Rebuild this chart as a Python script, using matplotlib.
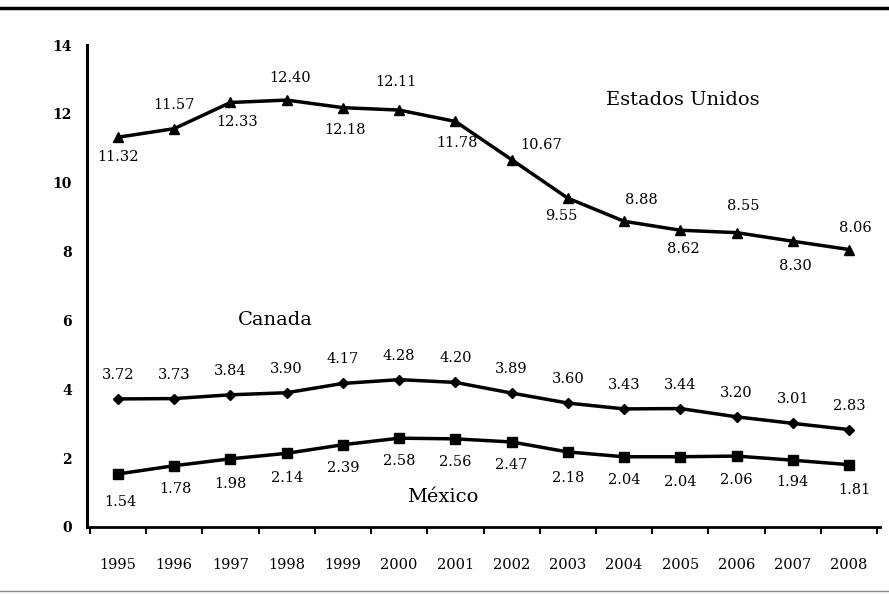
import matplotlib
matplotlib.use("Agg")
import matplotlib.pyplot as plt
from matplotlib.lines import Line2D

years = [1995, 1996, 1997, 1998, 1999, 2000, 2001, 2002, 2003, 2004, 2005, 2006, 2007, 2008]
estados_unidos = [11.32, 11.57, 12.33, 12.40, 12.18, 12.11, 11.78, 10.67, 9.55, 8.88, 8.62, 8.55, 8.30, 8.06]
canada = [3.72, 3.73, 3.84, 3.90, 4.17, 4.28, 4.20, 3.89, 3.60, 3.43, 3.44, 3.20, 3.01, 2.83]
mexico = [1.54, 1.78, 1.98, 2.14, 2.39, 2.58, 2.56, 2.47, 2.18, 2.04, 2.04, 2.06, 1.94, 1.81]
yticks = [0, 2, 4, 6, 8, 10, 12, 14]

plt.rcParams['font.family'] = ['DejaVu Serif']

fig = plt.figure(figsize=(8.89, 5.94), dpi=100)
ax = fig.add_axes([87/889, 1-527/594, (880-87)/889, (527-45)/594])

lw = 2.5
ax.plot(years, estados_unidos, color='black', lw=lw, marker='^', ms=7)
ax.plot(years, canada, color='black', lw=lw, marker='D', ms=5.5)
ax.plot(years, mexico, color='black', lw=lw, marker='s', ms=6.5)

# label offsets in pixels (dx, dy)
us_off = [(0, -20), (0, 24), (7, -20), (3, 22), (2, -22), (-3, 28), (2, -22), (30, 15),
          (-7, -18), (17, 21), (3, -19), (7, 27), (3, -25), (6, 22)]
ca_off = [(0, 24)] * 14
mx_off = [(2, -28), (1, -23), (0, -25), (0, -25), (0, -23), (0, -23), (0, -23), (0, -23),
          (0, -26), (0, -23), (0, -25), (0, -24), (0, -22), (5, -25)]

fs = 10.5
for series, offs in ((estados_unidos, us_off), (canada, ca_off), (mexico, mx_off)):
    for x, y, (dx, dy) in zip(years, series, offs):
        ax.annotate(f"{y:.2f}", (x, y), xytext=(dx, dy), textcoords='offset pixels',
                    ha='center', va='center', fontsize=fs)

ax.text(2005.05, 12.40, "Estados Unidos", fontsize=14, ha='center', va='center')
ax.text(1997.79, 6.01, "Canada", fontsize=14, ha='center', va='center')
ax.text(2000.78, 0.87, "México", fontsize=14, ha='center', va='center')

ax.set_xlim(1994.45, 2008.55)
ax.set_ylim(0, 14)
ax.set_yticks(yticks)
ax.set_yticklabels([str(t) for t in yticks], fontsize=10, fontweight='bold')
ax.tick_params(axis='y', length=0, pad=11)

ax.set_xticks([y - 0.5 for y in years] + [2008.5])
ax.set_xticklabels([])
ax.set_xticks(years, minor=True)
ax.set_xticklabels([str(y) for y in years], minor=True, fontsize=10.5)
ax.tick_params(axis='x', which='major', length=5, width=1.5, direction='out')
ax.tick_params(axis='x', which='minor', length=0, pad=22)

for s in ('top', 'right'):
    ax.spines[s].set_visible(False)
ax.spines['left'].set_linewidth(2.2)
ax.spines['bottom'].set_linewidth(2.0)

fig.add_artist(Line2D([0, 1], [1-8/594, 1-8/594], color='black', lw=2.5, transform=fig.transFigure))
fig.add_artist(Line2D([0, 1], [1-591/594, 1-591/594], color='#888888', lw=1.0, transform=fig.transFigure))

fig.savefig("out.png", dpi=100)
